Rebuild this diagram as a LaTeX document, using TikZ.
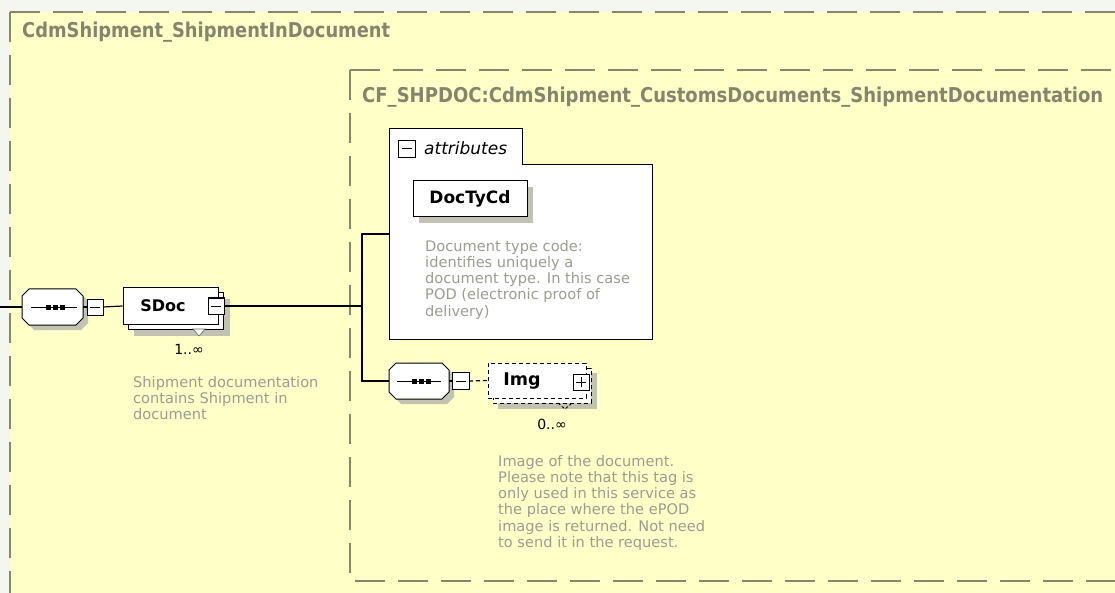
\documentclass[tikz,border=0pt]{standalone}
\usepackage{fontspec}
\setmainfont{DejaVu Sans}
\usepackage{graphicx}
\usetikzlibrary{calc}
\definecolor{outbg}{HTML}{F6F6F0}
\definecolor{bgyel}{HTML}{FFFFC8}
\definecolor{frame}{HTML}{86866C}
\definecolor{titlec}{HTML}{85856E}
\definecolor{descc}{HTML}{9C9C92}
\definecolor{shad}{HTML}{C2C2B2}
\newcommand{\octpath}[4]{(#1+7,#2) -- (#3-7,#2) -- (#3,#2+7) -- (#3,#4-7) -- (#3-7,#4) -- (#1+7,#4) -- (#1,#4-7) -- (#1,#2+7) -- cycle}
\tikzset{
  grpframe/.style={draw=frame, line width=1.3pt, dash pattern=on 30pt off 13pt},
  grptitle/.style={inner sep=0pt, text=titlec, font=\bfseries},
  elbox/.style={draw=black, fill=white, line width=1pt},
  dashbox/.style={draw=black, fill=white, line width=1pt, dash pattern=on 4pt off 3pt},
  shadowfill/.style={fill=shad, draw=none},
  conn/.style={draw=black, line width=1.2pt},
  dconn/.style={draw=black, line width=1.2pt, dash pattern=on 4pt off 3pt},
  hook/.style={draw=none, inner sep=0pt, outer sep=0pt},
  pmbox/.style={draw=black, fill=white, line width=1pt, minimum size=16pt, inner sep=0pt, outer sep=0pt},
  elname/.style={inner sep=0pt, font=\bfseries\fontsize{16}{18}\selectfont},
  card/.style={inner sep=0pt, font=\fontsize{14}{16}\selectfont},
  desc/.style={anchor=north west, inner sep=0pt, align=left, text=descc, font=\fontsize{14.6}{16.2}\selectfont},
}
\begin{document}
\begin{tikzpicture}[x=1pt,y=-1pt]
\useasboundingbox (0,0) rectangle (1115,593);
\clip (0,0) rectangle (1115,593);
\fill[outbg] (0,0) rectangle (1115,593);
% outer group
\fill[bgyel] (10,12) rectangle (1140,620);
\draw[grpframe] (10,12) -- (10,620);
\draw[grpframe] (10,12) -- (1140,12);
\node[grptitle, anchor=base west] (outertitle) at (22,37.5) {\resizebox{368pt}{15.5pt}{CdmShipment\_ShipmentInDocument}};
% inner group
\fill[bgyel] (350,70) rectangle (1140,581);
\draw[grpframe] (350,70) -- (1140,70);
\draw[grpframe] (350,70) -- (350,581) -- (1140,581);
\node[grptitle, anchor=base west] (innertitle) at (362,103) {\resizebox{741pt}{15.5pt}{CF\_SHPDOC:CdmShipment\_CustomsDocuments\_ShipmentDocumentation}};
% attributes
\draw[elbox] (389,129) -- (522,129) -- (522,165) -- (652,165) -- (652,339) -- (389,339) -- cycle;
\node[hook, minimum width=263pt, minimum height=210pt, anchor=north west] (attrs) at (389,129) {};
\node[pmbox, minimum size=17pt] (attrtoggle) at (406.5,149) {};
\draw[line width=1pt] ([xshift=-5pt]attrtoggle.center) -- ([xshift=5pt]attrtoggle.center);
\node[anchor=west, inner sep=0pt, font=\itshape\fontsize{17}{19}\selectfont] (attrlabel) at (424,148) {attributes};
% DocTyCd
\fill[shadowfill] (419,187) rectangle (533,223);
\node[elbox, minimum width=114pt, minimum height=36pt, inner sep=0pt, font=\bfseries\fontsize{17}{19}\selectfont] (doctycd) at (470,199) {DocTyCd};
\node[desc] (doctycddesc) at (425,240) {Document type code:\\identifies uniquely a\\document type. In this case\\POD (electronic proof of\\delivery)};
% sequence 1
\coordinate (entry) at (0,307);
\fill[shadowfill] \octpath{27}{294}{88}{330};
\draw[elbox] \octpath{22}{289}{83}{325};
\node[hook, minimum width=61pt, minimum height=36pt] (seq1) at (52.5,307) {};
\draw[line width=1pt] (31,307) -- (77,307);
\fill (45.5,304.5) rectangle (50.5,309.5);
\fill (52.5,304.5) rectangle (57.5,309.5);
\fill (59.5,304.5) rectangle (64.5,309.5);
\node[pmbox] (seq1toggle) at (95,307) {};
\draw[line width=1pt] ([xshift=-5pt]seq1toggle.center) -- ([xshift=5pt]seq1toggle.center);
\draw[conn] (entry) -- (seq1.west);
\draw[conn] (seq1.east) -- (seq1toggle.west);
% SDoc
\fill[shadowfill] (134,299) rectangle (230,336);
\draw[elbox] (128,293) rectangle (223,329);
\node[elbox, minimum width=95pt, minimum height=36pt, inner sep=0pt] (sdoc) at (170.5,306) {};
\node[elname] (sdoctext) at (163,306) {SDoc};
\draw[conn] (seq1toggle.east) -- (sdoc.west);
\draw[fill=white, line width=0.6pt, draw=black!60] (193,329) -- (205,329) -- (199,336) -- cycle;
\node[pmbox] (sdoctoggle) at (216,306) {};
\draw[line width=1pt] ([xshift=-5pt]sdoctoggle.center) -- ([xshift=5pt]sdoctoggle.center);
\node[card] (sdoccard) at (189,349) {1..∞};
\node[desc] (sdocdesc) at (133,376) {Shipment documentation\\contains Shipment in\\document};
% sequence 2
\fill[shadowfill] \octpath{394}{368}{454}{404};
\draw[elbox] \octpath{389}{363}{449}{399};
\node[hook, minimum width=60pt, minimum height=36pt] (seq2) at (419,381) {};
\draw[line width=1pt] (397,381) -- (441,381);
\fill (411.5,378.5) rectangle (416.5,383.5);
\fill (418.5,378.5) rectangle (423.5,383.5);
\fill (425.5,378.5) rectangle (430.5,383.5);
\node[pmbox, minimum size=17pt] (seq2toggle) at (460.5,381) {};
\draw[line width=1pt] ([xshift=-5pt]seq2toggle.center) -- ([xshift=5pt]seq2toggle.center);
\draw[conn] (seq2.east) -- (seq2toggle.west);
% branch
\coordinate (branch) at (362,306);
\draw[conn] (sdoctoggle.east) -- (branch);
\draw[conn] (attrs.west) -| (branch) |- (seq2.west);
% Img
\fill[shadowfill] (498,373) rectangle (597,409);
\draw[dashbox] (493,368) rectangle (591,403);
\node[dashbox, minimum width=98pt, minimum height=35pt, inner sep=0pt] (img) at (537,380.5) {};
\node[elname, font=\bfseries\fontsize{17.5}{19}\selectfont] (imgtext) at (522,381) {Img};
\draw[dconn] (seq2toggle.east) -- (img.west);
\draw[line width=0.8pt, dash pattern=on 3pt off 2pt] (558,403) -- (565,409) -- (572,403);
\node[pmbox] (imgtoggle) at (581,382) {};
\draw[line width=1pt] ([xshift=-5pt]imgtoggle.center) -- ([xshift=5pt]imgtoggle.center);
\draw[line width=1pt] ([yshift=-5pt]imgtoggle.center) -- ([yshift=5pt]imgtoggle.center);
\node[card] (imgcard) at (552,424) {0..∞};
\node[desc] (imgdesc) at (498,455) {Image of the document.\\Please note that this tag is\\only used in this service as\\the place where the ePOD\\image is returned. Not need\\to send it in the request.};
\end{tikzpicture}
\end{document}
